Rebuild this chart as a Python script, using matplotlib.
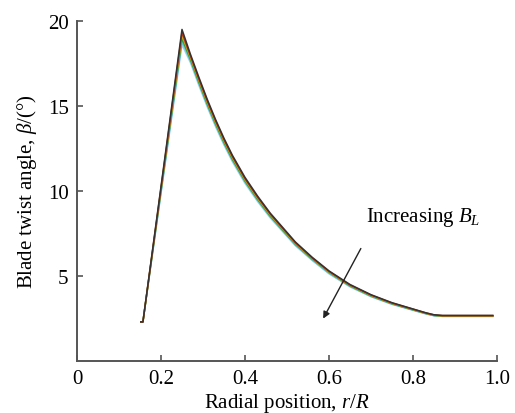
import matplotlib
matplotlib.use("Agg")
import matplotlib.pyplot as plt

plt.rcParams['font.family'] = ['Liberation Serif', 'DejaVu Serif']
plt.rcParams['mathtext.fontset'] = 'custom'
plt.rcParams['mathtext.rm'] = 'Liberation Serif'
plt.rcParams['mathtext.it'] = 'Liberation Serif:italic'

# radial stations r/R
r_pos = [0.152, 0.157, 0.25, 0.27, 0.29, 0.31, 0.33, 0.35, 0.37, 0.40, 0.43,
         0.46, 0.49, 0.52, 0.56, 0.60, 0.65, 0.70, 0.75, 0.80, 0.83, 0.85,
         0.87, 0.90, 0.95, 0.99]

# twist angle for each B_L (smallest -> largest)
beta_1 = [2.3, 2.3, 19.5, 18.05, 16.7, 15.4, 14.2, 13.1, 12.1, 10.8, 9.7,
          8.7, 7.85, 7.0, 6.1, 5.3, 4.5, 3.9, 3.43, 3.06, 2.84, 2.72,
          2.68, 2.68, 2.68, 2.68]
beta_2 = [2.3, 2.3, 19.32, 17.95, 16.6, 15.31, 14.12, 13.02, 12.03, 10.73, 9.64,
          8.65, 7.8, 6.96, 6.06, 5.27, 4.47, 3.88, 3.41, 3.05, 2.83, 2.71,
          2.67, 2.67, 2.67, 2.67]
beta_3 = [2.3, 2.3, 19.14, 17.85, 16.51, 15.22, 14.03, 12.94, 11.95, 10.66, 9.57,
          8.59, 7.75, 6.91, 6.03, 5.24, 4.45, 3.85, 3.39, 3.03, 2.81, 2.69,
          2.65, 2.65, 2.65, 2.65]
beta_4 = [2.3, 2.3, 18.96, 17.75, 16.41, 15.13, 13.95, 12.86, 11.87, 10.59, 9.51,
          8.53, 7.7, 6.87, 6.0, 5.22, 4.42, 3.83, 3.37, 3.01, 2.8, 2.68,
          2.64, 2.64, 2.64, 2.64]
beta_5 = [2.3, 2.3, 18.78, 17.65, 16.32, 15.04, 13.86, 12.78, 11.8, 10.52, 9.44,
          8.48, 7.65, 6.82, 5.95, 5.16, 4.39, 3.8, 3.35, 3.0, 2.79, 2.67,
          2.63, 2.63, 2.63, 2.63]
beta_6 = [2.3, 2.3, 18.6, 17.55, 16.22, 14.95, 13.78, 12.7, 11.72, 10.45, 9.38,
          8.42, 7.6, 6.78, 5.91, 5.13, 4.36, 3.78, 3.33, 2.98, 2.77, 2.66,
          2.62, 2.62, 2.62, 2.62]

series = [beta_6, beta_5, beta_4, beta_3, beta_2, beta_1]
colors = ['#a8cff2', '#5cc8d8', '#2ca02c', '#d4a017', '#b03020', '#333333']

x_ticks = [0, 0.2, 0.4, 0.6, 0.8, 1.0]
x_tick_labels = ['0', '0.2', '0.4', '0.6', '0.8', '1.0']
y_ticks = [5, 10, 15, 20]

fig = plt.figure(figsize=(5.15, 4.14), dpi=100)
ax = fig.add_axes([0.1495, 0.1256, 0.8155, 0.8214])

for b, c in zip(series, colors):
    ax.plot(r_pos, b, color=c, lw=1.1)

ax.set_xlim(0, 1.0)
ax.set_ylim(0, 20)
ax.set_xticks(x_ticks)
ax.set_xticklabels(x_tick_labels)
ax.set_yticks(y_ticks)

for side in ['top', 'right']:
    ax.spines[side].set_visible(False)
for side in ['left', 'bottom']:
    ax.spines[side].set_color('#555555')
    ax.spines[side].set_linewidth(1.4)
ax.tick_params(direction='in', length=4, width=1.2, color='#555555',
               labelsize=15, pad=6)

ax.set_xlabel('Radial position, $r/R$', fontsize=15, labelpad=2)
ax.set_ylabel(r'Blade twist angle, $\beta$/(°)', fontsize=15, labelpad=6)

ax.annotate('', xy=(0.583, 2.35), xytext=(0.679, 6.76),
            arrowprops=dict(arrowstyle='-|>', color='#222222', lw=1.0,
                            mutation_scale=10))
ax.text(0.688, 8.5, 'Increasing $B_L$', fontsize=15, va='center')

fig.savefig('out.png', dpi=100)
